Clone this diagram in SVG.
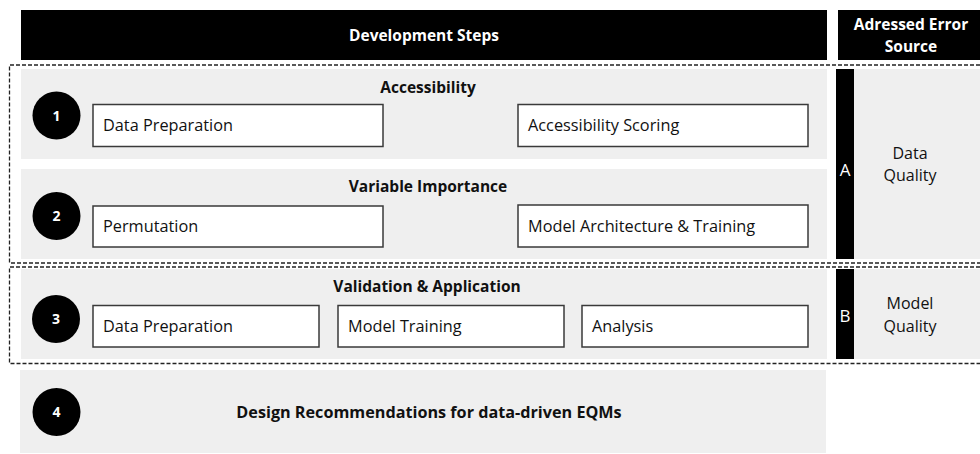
<svg xmlns="http://www.w3.org/2000/svg" width="980" height="454" viewBox="0 0 980 454">
<style>
text{font-family:"Open Sans","Liberation Sans",sans-serif;}
.hdr{fill:#000;}
.hdrt{fill:#fff;font-weight:bold;font-size:15.5px;text-anchor:middle;}
.panel{fill:#efefef;}
.box{fill:#fff;stroke:#3a3a3a;stroke-width:1.5;}
.bt{font-size:16.3px;fill:#111;}
.title{font-size:15.5px;font-weight:bold;fill:#111;text-anchor:middle;}
.circ{fill:#000;}
.num{fill:#fff;font-weight:bold;font-size:14px;text-anchor:middle;}
.dash{fill:none;stroke:#222;stroke-width:1.3;stroke-dasharray:4 2;}
.bar{fill:#000;}
.bart{fill:#fff;font-size:17px;text-anchor:middle;}
.src{font-size:16px;fill:#111;text-anchor:middle;}
</style>
<rect width="980" height="454" fill="#fff"/>
<g id="header">
<rect class="hdr" x="21" y="10" width="806" height="50"/>
<text class="hdrt" x="424" y="41">Development Steps</text>
<rect class="hdr" x="838" y="10" width="142" height="50"/>
<text class="hdrt" x="911" y="30">Adressed Error</text>
<text class="hdrt" x="911" y="52">Source</text>
</g>
<g id="groups">
<path class="dash" d="M980 65 H9.5 V263 H980"/>
<path class="dash" d="M980 267 H9.5 V363.5 H980"/>
</g>
<g id="step1">
<rect class="panel" x="21" y="69" width="806" height="90"/>
<circle class="circ" cx="56.5" cy="115.5" r="24"/>
<text class="num" x="56.5" y="120.5">1</text>
<text class="title" x="428" y="93">Accessibility</text>
<rect class="box" x="93" y="104.5" width="290" height="42"/>
<text class="bt" x="103" y="131">Data Preparation</text>
<rect class="box" x="518" y="104.5" width="290" height="42"/>
<text class="bt" x="528" y="131">Accessibility Scoring</text>
</g>
<g id="step2">
<rect class="panel" x="21" y="169" width="806" height="90"/>
<circle class="circ" cx="56.5" cy="216" r="24"/>
<text class="num" x="56.5" y="221">2</text>
<text class="title" x="428" y="192">Variable Importance</text>
<rect class="box" x="93" y="206" width="290" height="41"/>
<text class="bt" x="103" y="232">Permutation</text>
<rect class="box" x="518" y="205" width="290" height="42"/>
<text class="bt" x="528" y="232">Model Architecture &amp; Training</text>
</g>
<g id="step3">
<rect class="panel" x="21" y="269" width="806" height="90"/>
<circle class="circ" cx="56" cy="319" r="24"/>
<text class="num" x="56" y="324">3</text>
<text class="title" x="427" y="292">Validation &amp; Application</text>
<rect class="box" x="93" y="305.5" width="226" height="41.5"/>
<text class="bt" x="103" y="332">Data Preparation</text>
<rect class="box" x="338" y="305.5" width="226" height="41.5"/>
<text class="bt" x="348" y="332">Model Training</text>
<rect class="box" x="582" y="305.5" width="226" height="41.5"/>
<text class="bt" x="592" y="332">Analysis</text>
</g>
<g id="step4">
<rect class="panel" x="20" y="370" width="806" height="83"/>
<circle class="circ" cx="56.5" cy="412" r="24"/>
<text class="num" x="56.5" y="417">4</text>
<text class="title" x="429" y="418" style="font-size:16.2px">Design Recommendations for data-driven EQMs</text>
</g>
<g id="sourceA">
<rect class="panel" x="854" y="69" width="126" height="190"/>
<rect class="bar" x="836" y="69" width="18" height="190"/>
<text class="bart" x="845" y="176">A</text>
<text class="src" x="910" y="159">Data</text>
<text class="src" x="910" y="181">Quality</text>
</g>
<g id="sourceB">
<rect class="panel" x="854" y="269" width="126" height="90"/>
<rect class="bar" x="836" y="269" width="18" height="90"/>
<text class="bart" x="845" y="322">B</text>
<text class="src" x="910" y="309">Model</text>
<text class="src" x="910" y="332">Quality</text>
</g>
</svg>
